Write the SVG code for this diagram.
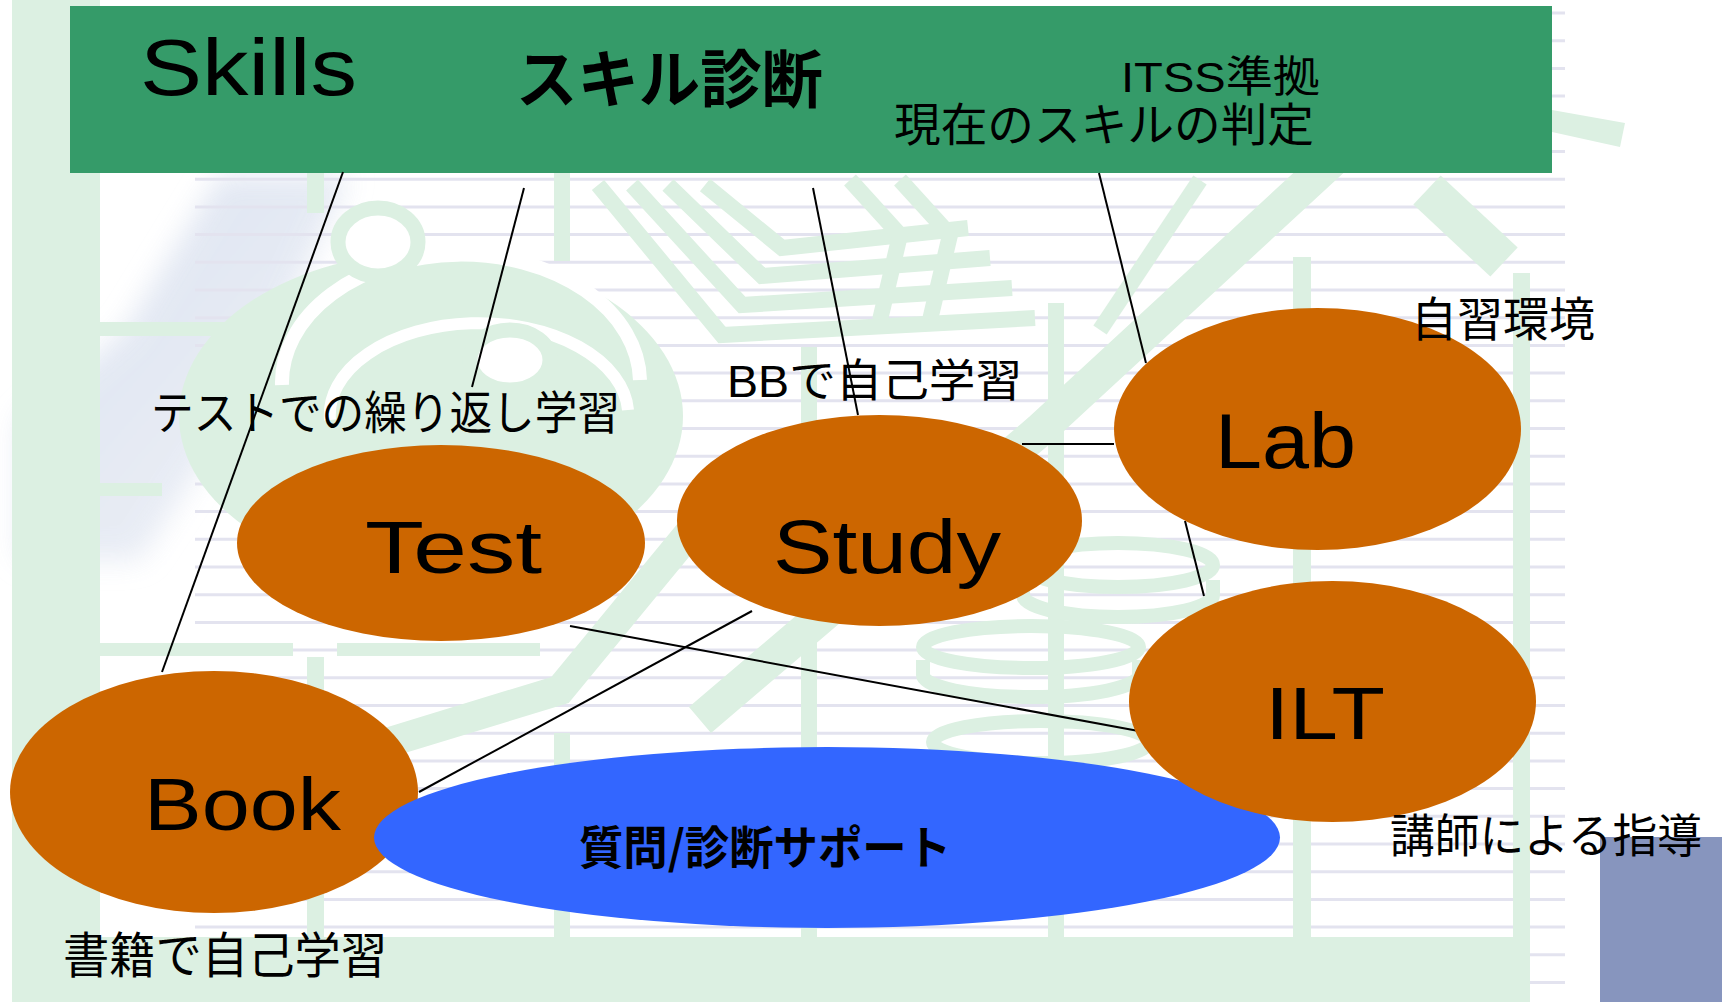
<svg xmlns="http://www.w3.org/2000/svg" width="1722" height="1002" viewBox="0 0 1722 1002">
<defs>
<style>
.pg{fill:#DCF0E2}
.pgs{fill:none;stroke:#DCF0E2}
.ln{fill:none;stroke:#E3E3EF;stroke-width:3}
.node{fill:#CC6600}
.lat{font-family:"Liberation Sans",Arial,sans-serif;fill:#000}
.jp{font-family:"Liberation Sans","Noto Sans CJK JP",sans-serif;fill:#000}
.jpb{font-family:"Noto Sans CJK JP",sans-serif;font-weight:bold;fill:#000}
.con{stroke:#000;stroke-width:2;fill:none}
</style>
<filter id="blur" x="-20%" y="-20%" width="140%" height="140%"><feGaussianBlur stdDeviation="14"/></filter>
<linearGradient id="pen" x1="0" y1="0" x2="1" y2="1">
<stop offset="0" stop-color="#D6DEEE"/>
<stop offset="1" stop-color="#ECEFF6"/>
</linearGradient>
</defs>
<rect width="1722" height="1002" fill="#FFFFFF"/>
<g id="background">
<path d="M220 175 L350 175 L245 400 L140 560 L20 560 L20 420 L125 330 Z" fill="url(#pen)" filter="url(#blur)" opacity="0.85"/>
<path class="ln" d="M195 13H1565M195 40.7H1565M195 68.4H1565M195 96.1H1565M195 123.8H1565M195 151.5H1565M195 179.2H1565M195 206.9H1565M195 234.6H1565M195 262.3H1565M195 290H1565M195 317.7H1565M195 345.4H1565M195 373.1H1565M195 400.8H1565M195 428.5H1565M195 456.2H1565M195 483.9H1565M195 511.6H1565M195 539.3H1565M195 567H1565M195 594.7H1565M195 622.4H1565M195 650.1H1565M195 677.8H1565M195 705.5H1565M195 733.2H1565M195 760.9H1565M195 788.6H1565M195 816.3H1565M195 844H1565M195 871.7H1565M195 899.4H1565M195 927.1H1565M195 954.8H1565M195 982.5H1565"/>
<ellipse class="pg" cx="431" cy="416" rx="252" ry="164"/>
<path d="M282 385 A 175 125 0 0 1 640 380" fill="none" stroke="#FFFFFF" stroke-width="14"/>
<path d="M330 420 A 130 80 0 0 1 628 410" fill="none" stroke="#FFFFFF" stroke-width="12"/>
<ellipse cx="378" cy="242" rx="40" ry="34" fill="#FFFFFF" stroke="#DCF0E2" stroke-width="15"/>
<ellipse cx="510" cy="360" rx="40" ry="30" fill="#FFFFFF" stroke="#DCF0E2" stroke-width="15"/>
<rect class="pg" x="12" y="0" width="88" height="1002"/>
<rect class="pg" x="12" y="937" width="1518" height="65"/>
<rect class="pg" x="1513" y="273" width="17" height="729"/>
<rect class="pg" x="307" y="657" width="17" height="280"/>
<rect class="pg" x="307" y="173" width="17" height="40"/>
<rect class="pg" x="554" y="733" width="16" height="204"/>
<rect class="pg" x="554" y="173" width="16" height="88"/>
<rect class="pg" x="801" y="347" width="16" height="590"/>
<rect class="pg" x="1048" y="303" width="16" height="634"/>
<rect class="pg" x="1293" y="257" width="18" height="680"/>
<rect class="pg" x="100" y="322" width="140" height="14"/>
<rect class="pg" x="100" y="483" width="62" height="13"/>
<rect class="pg" x="100" y="643" width="193" height="13"/>
<rect class="pg" x="337" y="643" width="203" height="13"/>
<g class="pgs" stroke-width="16" stroke-linejoin="miter">
<polyline points="598,185 722,335 1035,318"/>
<polyline points="632,185 742,305 1012,288"/>
<polyline points="668,185 762,276 990,258"/>
<polyline points="705,185 782,248 968,228"/>
<polyline points="850,180 900,235 880,320"/>
<polyline points="900,180 950,235 930,320"/>
<polyline points="1200,180 1100,330"/>
</g>
<path class="pgs" d="M1365 130 L1040 430 L700 720" stroke-width="34"/>
<path class="pgs" d="M700 520 L560 690 L380 745" stroke-width="30"/>
<path class="pgs" d="M1427 190 L1504 262" stroke-width="40"/>
<polygon class="pg" points="1552,110 1625,123 1620,147 1552,132"/>
<g class="pgs" stroke-width="14">
<ellipse cx="1118" cy="565" rx="95" ry="22"/>
<path d="M1023 580 L1023 595 A 95 22 0 0 0 1213 595 L1213 580"/>
<ellipse cx="1031" cy="647" rx="108" ry="21"/>
<path d="M923 660 L923 675 A 108 22 0 0 0 1139 675 L1139 660"/>
<ellipse cx="1041" cy="742" rx="108" ry="21"/>
</g>
<rect x="1600" y="837" width="122" height="165" fill="#8795BE"/>
</g>
<g id="header">
<rect x="70" y="6" width="1482" height="167" fill="#359B69"/>
<text class="lat" x="140" y="95" font-size="80" textLength="217" lengthAdjust="spacingAndGlyphs">Skills</text>
<text class="jpb" x="516" y="102" font-size="63" textLength="307" lengthAdjust="spacingAndGlyphs">スキル診断</text>
<text class="jp" x="1121" y="92" font-size="43" textLength="199" lengthAdjust="spacingAndGlyphs">ITSS準拠</text>
<text class="jp" x="894" y="141" font-size="46" textLength="420" lengthAdjust="spacingAndGlyphs">現在のスキルの判定</text>
</g>
<g id="connectors">
<line class="con" x1="343" y1="172" x2="162" y2="672"/>
<line class="con" x1="524" y1="188" x2="472" y2="387"/>
<line class="con" x1="813" y1="188" x2="858" y2="415"/>
<line class="con" x1="1099" y1="173" x2="1146" y2="363"/>
<line class="con" x1="1022" y1="444" x2="1114" y2="444"/>
<line class="con" x1="1185" y1="521" x2="1204" y2="596"/>
<line class="con" x1="570" y1="626" x2="1144" y2="732"/>
<line class="con" x1="752" y1="611" x2="419" y2="792"/>
</g>
<g id="node-test">
<ellipse class="node" cx="441" cy="543" rx="204" ry="98"/>
<text class="lat" x="365" y="573" font-size="75" textLength="177" lengthAdjust="spacingAndGlyphs">Test</text>
</g>
<g id="node-study">
<ellipse class="node" cx="879.5" cy="520.5" rx="202.5" ry="105.5"/>
<text class="lat" x="773" y="573" font-size="76" textLength="228" lengthAdjust="spacingAndGlyphs">Study</text>
</g>
<g id="node-lab">
<ellipse class="node" cx="1317.5" cy="429" rx="203.5" ry="121"/>
<text class="lat" x="1215" y="468" font-size="77" textLength="141" lengthAdjust="spacingAndGlyphs">Lab</text>
</g>
<g id="node-book">
<ellipse class="node" cx="214" cy="792" rx="204" ry="121"/>
<text class="lat" x="144" y="830" font-size="75" textLength="197" lengthAdjust="spacingAndGlyphs">Book</text>
</g>
<g id="node-support">
<ellipse cx="827" cy="837.5" rx="453" ry="90.5" fill="#3366FF"/>
<text class="jpb" x="579" y="864" font-size="46" textLength="372" lengthAdjust="spacingAndGlyphs">質問/診断サポート</text>
</g>
<g id="node-ilt">
<ellipse class="node" cx="1332.5" cy="701.5" rx="203.5" ry="120.5"/>
<text class="lat" x="1265" y="739" font-size="75" textLength="120" lengthAdjust="spacingAndGlyphs">ILT</text>
</g>
<g id="labels">
<text class="jp" x="151" y="429" font-size="46" textLength="469" lengthAdjust="spacingAndGlyphs">テストでの繰り返し学習</text>
<text class="jp" x="727" y="397" font-size="45" textLength="295" lengthAdjust="spacingAndGlyphs">BBで自己学習</text>
<text class="jp" x="1411" y="336" font-size="47" textLength="184" lengthAdjust="spacingAndGlyphs">自習環境</text>
<text class="jp" x="63" y="973" font-size="49" textLength="324" lengthAdjust="spacingAndGlyphs">書籍で自己学習</text>
<text class="jp" x="1390" y="852" font-size="46" textLength="312" lengthAdjust="spacingAndGlyphs">講師による指導</text>
</g>
</svg>
